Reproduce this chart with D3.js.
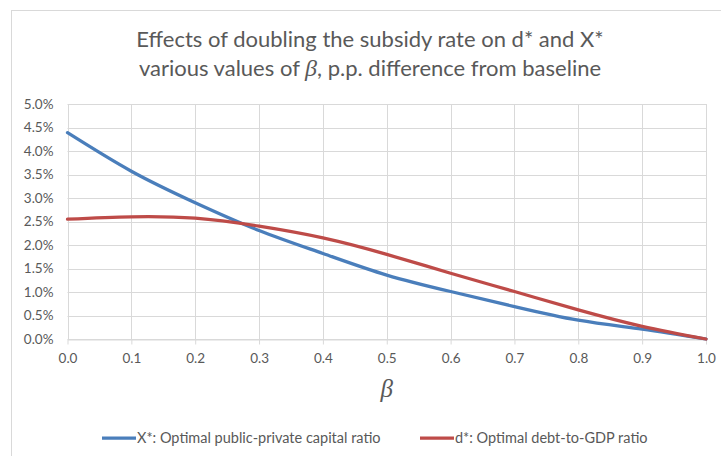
<!DOCTYPE html>
<html>
<head>
<meta charset="utf-8">
<script src="https://cdn.jsdelivr.net/npm/d3@7"></script>
<style>
  body { margin: 0; background: #fff; }
  svg text { font-family: Lato, "Open Sans", sans-serif; fill: #595959; }
</style>
</head>
<body>
<svg id="chart" width="721" height="456"></svg>
<script>
// beta values on the x axis
const betas = [0, 0.1, 0.2, 0.3, 0.4, 0.5, 0.6, 0.7, 0.8, 0.9, 1.0];
// p.p. difference from baseline (fractions)
const xStar = [0.0439, 0.0357, 0.0290, 0.0231, 0.0182, 0.0136, 0.0101, 0.0069, 0.0040, 0.0021, 0.0];
const dStar = [0.0255, 0.0260, 0.0257, 0.0240, 0.0215, 0.0180, 0.0140, 0.0101, 0.0062, 0.0027, 0.0];
const yTicks = d3.range(0, 0.0501, 0.005);
const xTicks = betas;
const seriesNames = ["X*: Optimal public-private capital ratio", "d*: Optimal debt-to-GDP ratio"];
const colors = ["#4a7ebb", "#be4b48"];

const svg = d3.select("#chart");

// chart area border
svg.append("rect")
    .attr("x", 11.5).attr("y", 10.5)
    .attr("width", 730).attr("height", 470)
    .attr("fill", "#fff")
    .attr("stroke", "#d9d9d9");

const x = d3.scaleLinear().domain([0, 1]).range([67.5, 706]);
const y = d3.scaleLinear().domain([0, 0.05]).range([339, 104]);

// horizontal grid
svg.append("g")
    .selectAll("line")
    .data(yTicks)
    .join("line")
    .attr("x1", x(0)).attr("x2", x(1))
    .attr("y1", d => Math.round(y(d)) + 0.5)
    .attr("y2", d => Math.round(y(d)) + 0.5)
    .attr("stroke", "#d9d9d9");

// vertical grid
svg.append("g")
    .selectAll("line")
    .data(xTicks)
    .join("line")
    .attr("x1", d => Math.round(x(d)) + 0.5)
    .attr("x2", d => Math.round(x(d)) + 0.5)
    .attr("y1", y(0.05)).attr("y2", y(0))
    .attr("stroke", "#d9d9d9");

// y axis labels
const yAxis = svg.append("g")
    .attr("transform", "translate(" + (x(0) - 14) + ",0)")
    .call(d3.axisLeft(y).tickValues(yTicks).tickSize(0).tickPadding(0).tickFormat(d3.format(".1%")));
yAxis.select(".domain").remove();
yAxis.selectAll("text")
    .style("font-size", "13.5px")
    .attr("fill", "#595959");

// x axis
const xAxis = svg.append("g")
    .attr("transform", "translate(0," + (Math.round(y(0)) + 0.5) + ")")
    .call(d3.axisBottom(x).tickValues(xTicks).tickSize(5).tickSizeOuter(0).tickPadding(9).tickFormat(d3.format(".1f")));
xAxis.select(".domain").attr("stroke", "#d9d9d9");
xAxis.selectAll(".tick line").attr("stroke", "#d9d9d9");
xAxis.selectAll("text")
    .style("font-size", "13.5px")
    .attr("fill", "#595959");

// lines
const line = d3.line()
    .x((d, i) => x(betas[i]))
    .y(d => y(d))
    .curve(d3.curveNatural);

[xStar, dStar].forEach((s, i) => {
    svg.append("path")
        .datum(s)
        .attr("fill", "none")
        .attr("stroke", colors[i])
        .attr("stroke-width", 3.25)
        .attr("stroke-linecap", "round")
        .attr("d", line);
});

// title
const title = svg.append("text")
    .attr("text-anchor", "middle")
    .style("font-size", "22px");
title.append("tspan")
    .attr("x", 370).attr("y", 47)
    .text("Effects of doubling the subsidy rate on d* and X*");
const t2 = title.append("tspan")
    .attr("x", 370).attr("y", 76);
t2.append("tspan").text("various values of ");
t2.append("tspan")
    .style("font-family", "'Liberation Serif', serif")
    .style("font-style", "italic")
    .style("font-size", "24px")
    .text("β");
t2.append("tspan").text(", p.p. difference from baseline");

// x axis title
svg.append("text")
    .attr("x", x(0.5)).attr("y", 397)
    .attr("text-anchor", "middle")
    .style("font-family", "'Liberation Serif', serif")
    .style("font-style", "italic")
    .style("font-size", "25px")
    .text("β");

// legend
const legendX = [102, 420];
const legend = svg.append("g");
seriesNames.forEach((name, i) => {
    legend.append("line")
        .attr("x1", legendX[i]).attr("x2", legendX[i] + 34)
        .attr("y1", 438).attr("y2", 438)
        .attr("stroke", colors[i])
        .attr("stroke-width", 3.25);
    legend.append("text")
        .attr("x", legendX[i] + 35).attr("y", 443)
        .style("font-size", "14.5px")
        .text(name);
});
</script>
</body>
</html>
